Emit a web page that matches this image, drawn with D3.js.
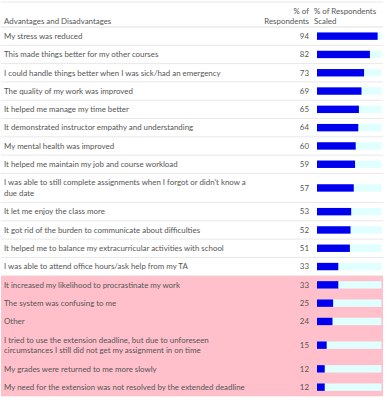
<!DOCTYPE html>
<html>
<head>
<meta charset="utf-8">
<script src="https://cdn.jsdelivr.net/npm/d3@7"></script>
<style>
  body { margin: 0; background: #fff; }
  svg text { font-family: "Segoe UI", Lato, sans-serif; }
</style>
</head>
<body>
<svg id="chart"></svg>
<script>
const labels = [
    "My stress was reduced",
    "This made things better for my other courses",
    "I could handle things better when I was sick/had an emergency",
    "The quality of my work was improved",
    "It helped me manage my time better",
    "It demonstrated instructor empathy and understanding",
    "My mental health was improved",
    "It helped me maintain my job and course workload",
    "I was able to still complete assignments when I forgot or didn't know a\ndue date",
    "It let me enjoy the class more",
    "It got rid of the burden to communicate about difficulties",
    "It helped me to balance my extracurricular activities with school",
    "I was able to attend office hours/ask help from my TA",
    "It increased my likelihood to procrastinate my work",
    "The system was confusing to me",
    "Other",
    "I tried to use the extension deadline, but due to unforeseen\ncircumstances I still did not get my assignment in on time",
    "My grades were returned to me more slowly",
    "My need for the extension was not resolved by the extended deadline"
];
const percents = [94, 82, 73, 69, 65, 64, 60, 59, 57, 53, 52, 51, 33, 33, 25, 24, 15, 12, 12];
// true = disadvantage (highlighted pink)
const isDisadvantage = [false, false, false, false, false, false, false, false, false, false, false, false, false,
    true, true, true, true, true, true];
const headers = ["Advantages and Disadvantages", "% of\nRespondents", "% of Respondents\nScaled"];

const width = 385, height = 400;
const headerH = 27, rowH = 18.3, lineH = 10.8;
const fontSize = 7.9;
const textColor = "#555";

const svg = d3.select("#chart")
    .attr("width", width)
    .attr("height", height);

// Build row table with cumulative y offsets
let yCursor = headerH;
const rows = labels.map((label, i) => {
    const lines = label.split("\n");
    const h = rowH + (lines.length - 1) * lineH;
    const r = { label, lines, value: percents[i], bad: isDisadvantage[i], y: yCursor, h };
    yCursor += h;
    return r;
});

const x = d3.scaleLinear().domain([0, 100]).range([317, 381.5]);

// Pink background for the disadvantages
const badRows = rows.filter(d => d.bad);
svg.append("rect")
    .attr("x", 1)
    .attr("y", badRows[0].y)
    .attr("width", 382)
    .attr("height", d3.sum(badRows, d => d.h))
    .attr("fill", "#ffc0cb");

// Top rule and header rule
svg.append("line").attr("x1", 1).attr("x2", 383).attr("y1", 2).attr("y2", 2)
    .attr("stroke", "#e6e6e6");
svg.append("line").attr("x1", 1).attr("x2", 383).attr("y1", headerH).attr("y2", headerH)
    .attr("stroke", "#e0e0e0");

// Header text
const headG = svg.append("g").attr("fill", textColor).style("font-size", fontSize + "px");
headG.append("text").attr("x", 4).attr("y", 23.5).text(headers[0]);
headers[1].split("\n").forEach((t, i) => {
    headG.append("text").attr("x", 309).attr("y", 13.5 + i * 10).attr("text-anchor", "end").text(t);
});
headers[2].split("\n").forEach((t, i) => {
    headG.append("text").attr("x", 314).attr("y", 13.5 + i * 10).text(t);
});

// Rows
const rowG = svg.selectAll("g.row")
    .data(rows)
    .enter()
    .append("g")
    .attr("class", "row")
    .attr("transform", d => "translate(0," + d.y + ")");

rowG.filter(d => !d.bad)
    .append("line")
    .attr("x1", 1).attr("x2", 383)
    .attr("y1", d => d.h).attr("y2", d => d.h)
    .attr("stroke", "#e8e8e8");

rowG.each(function (d) {
    const g = d3.select(this);
    const top = d.h / 2 - (d.lines.length - 1) * lineH / 2;
    d.lines.forEach((t, i) => {
        g.append("text")
            .attr("x", 4)
            .attr("y", top + i * lineH)
            .attr("dy", "0.35em")
            .attr("fill", textColor)
            .style("font-size", fontSize + "px")
            .text(t);
    });
});

rowG.append("text")
    .attr("x", 309)
    .attr("y", d => d.h / 2)
    .attr("dy", "0.35em")
    .attr("text-anchor", "end")
    .attr("fill", textColor)
    .style("font-size", fontSize + "px")
    .text(d => d.value);

rowG.append("rect")
    .attr("x", x(0))
    .attr("y", d => d.h / 2 - 3.7)
    .attr("width", x(100) - x(0))
    .attr("height", 7.4)
    .attr("fill", "#e0ffff");

rowG.append("rect")
    .attr("x", x(0))
    .attr("y", d => d.h / 2 - 3.7)
    .attr("width", d => x(d.value) - x(0))
    .attr("height", 7.4)
    .attr("fill", "#0000ee");
</script>
</body>
</html>
